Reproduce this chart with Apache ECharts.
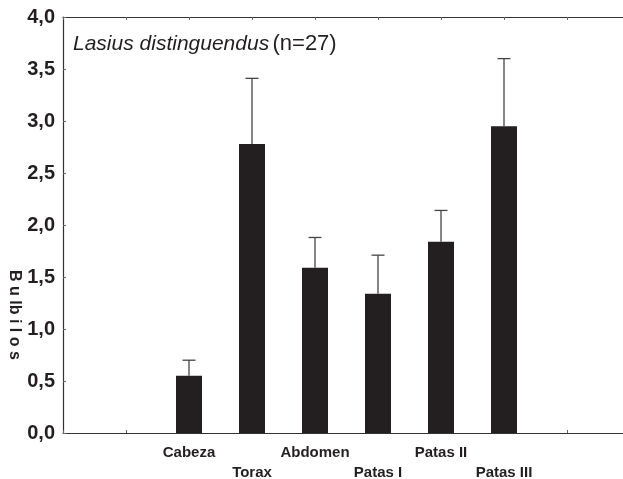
<!DOCTYPE html>
<html>
<head>
<meta charset="utf-8">
<script src="https://cdn.jsdelivr.net/npm/echarts@6/dist/echarts.min.js"></script>
<style>
	html, body { margin: 0; padding: 0; background: #fff; }
	#chart { width: 623px; height: 479px; }
</style>
</head>
<body>
<div id="chart"></div>
<script>
var categories = ['Cabeza', 'Torax', 'Abdomen', 'Patas I', 'Patas II', 'Patas III'];
var means = [0.55, 2.78, 1.59, 1.34, 1.84, 2.95];
var upperErr = [0.70, 3.41, 1.88, 1.71, 2.14, 3.60];
var yTicks = [0, 0.5, 1, 1.5, 2, 2.5, 3, 3.5, 4];

var ink = '#231f20';
var font = 'Arial, "Liberation Sans", sans-serif';

// bars sit on positions 1..n of a value axis, like the original plot
var barData = categories.map(function(c, i) { return [i + 1, means[i]]; });
var errData = categories.map(function(c, i) { return [i + 1, means[i], upperErr[i]]; });

var chart = echarts.init(document.getElementById('chart'));

var tickStyle = { show: true, inside: true, length: 3, lineStyle: { color: '#666' } };
var lineStyle = { show: true, onZero: false, lineStyle: { color: '#333', width: 1.2 } };

var options =
{
	animation: false,
	backgroundColor: '#fff',
	grid: { left: 63, top: 17, width: 567, height: 416, outerBoundsMode: 'none', containLabel: false },
	xAxis:
	[
		{
			type: 'value',
			min: -1,
			max: 8,
			interval: 1,
			position: 'bottom',
			axisLine: lineStyle,
			axisTick: tickStyle,
			splitLine: { show: false },
			axisLabel:
			{
				margin: 10,
				fontFamily: font,
				fontWeight: 'bold',
				fontSize: 15,
				lineHeight: 20,
				color: ink,
				formatter: function(v)
				{
					var name = categories[v - 1];
					if (!name) return '';
					return (v % 2 === 0) ? '\n' + name : name;
				}
			}
		},
		{
			type: 'value',
			min: -1,
			max: 8,
			interval: 1,
			position: 'top',
			axisLine: lineStyle,
			axisTick: tickStyle,
			splitLine: { show: false },
			axisLabel: { show: false }
		}
	],
	yAxis:
	{
		type: 'value',
		min: yTicks[0],
		max: yTicks[yTicks.length - 1],
		interval: 0.5,
		axisLine: lineStyle,
		axisTick: tickStyle,
		splitLine: { show: false },
		axisLabel:
		{
			margin: 8,
			fontFamily: font,
			fontWeight: 'bold',
			fontSize: 20,
			color: ink,
			formatter: function(v) { return v.toFixed(1).replace('.', ','); }
		}
	},
	graphic:
	[
		{
			type: 'text',
			left: 73,
			top: 33,
			style:
			{
				text: '{i|Lasius distinguendus} {n|(n=27)}',
				rich:
				{
					i: { fontFamily: font, fontStyle: 'italic', fontSize: 21, fill: ink },
					n: { fontFamily: font, fontSize: 22, fill: ink }
				}
			}
		},
		{
			type: 'text',
			x: 22,
			y: 270,
			rotation: -Math.PI / 2,
			style:
			{
				text: 'B u lb i l o s',
				fontFamily: font,
				fontWeight: 'bold',
				fontSize: 16,
				verticalAlign: 'top',
				fill: ink
			}
		}
	],
	series:
	[
		{
			type: 'bar',
			data: barData,
			barWidth: 26,
			itemStyle: { color: ink }
		},
		{
			type: 'custom',
			data: errData,
			z: 3,
			renderItem: function(params, api)
			{
				var base = api.coord([api.value(0), api.value(1)]);
				var top = api.coord([api.value(0), api.value(2)]);
				var half = 6.5;
				var style = { stroke: '#444', lineWidth: 1.3 };
				return {
					type: 'group',
					children:
					[
						{ type: 'line', shape: { x1: base[0], y1: base[1], x2: top[0], y2: top[1] }, style: style },
						{ type: 'line', shape: { x1: top[0] - half, y1: top[1], x2: top[0] + half, y2: top[1] }, style: style }
					]
				};
			}
		}
	]
};

chart.setOption(options);
</script>
</body>
</html>
